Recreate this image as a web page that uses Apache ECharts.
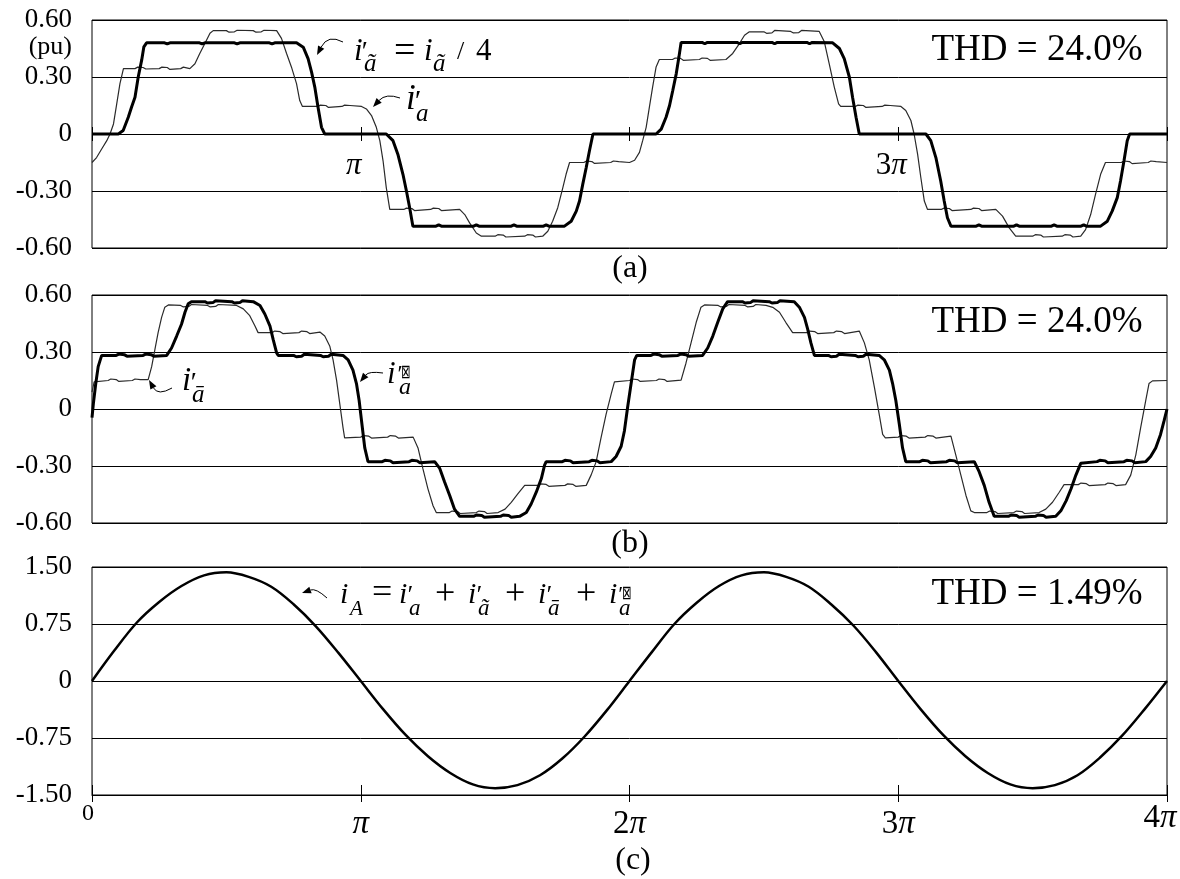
<!DOCTYPE html>
<html>
<head>
<meta charset="utf-8">
<script src="https://cdn.jsdelivr.net/npm/echarts@6/dist/echarts.min.js"></script>
<style>
  html, body { margin: 0; padding: 0; background: #fff; }
  #chart { width: 1180px; height: 879px; }
</style>
</head>
<body>
<div id="chart"></div>
<script>
// x is in units of pi (0 .. 4 pi), y in pu

// tick labels
var yLabelsAB = ['-0.60', '-0.30', '0', '0.30', '0.60'];
var yLabelsC = ['-1.50', '-0.75', '0', '0.75', '1.50'];
var xLabelsA = ['', 'π', '', '3π', ''];
var xLabelsC = ['0', 'π', '2π', '3π', '4π'];
var thdLabels = ['THD = 24.0%', 'THD = 24.0%', 'THD = 1.49%'];
var panelNames = ['(a)', '(b)', '(c)'];

// panel (a), thick: i'_ã = i_ã / 4
var iaTildeA = [
  [0,0],[0.098,0],[0.116,0.018],[0.135,0.088],[0.147,0.141],[0.16,0.194],[0.172,0.3],[0.185,0.39],[0.193,0.459],[0.203,0.48],
  [0.27,0.48],[0.28,0.474],[0.29,0.48],[0.4,0.48],[0.41,0.474],[0.42,0.48],[0.53,0.48],[0.54,0.474],[0.55,0.48],[0.66,0.48],[0.67,0.474],[0.68,0.48],
  [0.761,0.48],[0.786,0.457],[0.804,0.397],[0.817,0.326],[0.829,0.247],[0.841,0.141],[0.854,0.035],[0.866,0],
  [1.095,0],[1.12,-0.035],[1.138,-0.106],[1.157,-0.212],[1.17,-0.3],[1.182,-0.388],[1.194,-0.485],
  [1.28,-0.485],[1.29,-0.478],[1.3,-0.485],[1.42,-0.485],[1.43,-0.478],[1.44,-0.485],[1.56,-0.485],[1.57,-0.478],[1.58,-0.485],[1.68,-0.485],[1.69,-0.478],[1.7,-0.485],
  [1.758,-0.485],[1.783,-0.459],[1.802,-0.406],[1.814,-0.353],[1.826,-0.265],[1.839,-0.176],[1.851,-0.088],[1.864,0],
  [2.099,0],[2.118,0.026],[2.136,0.088],[2.149,0.15],[2.161,0.229],[2.174,0.318],[2.184,0.406],[2.192,0.482],
  [2.27,0.482],[2.28,0.475],[2.29,0.482],[2.4,0.482],[2.41,0.475],[2.42,0.482],[2.53,0.482],[2.54,0.475],[2.55,0.482],[2.66,0.482],[2.67,0.475],[2.68,0.482],
  [2.756,0.48],[2.781,0.45],[2.799,0.397],[2.818,0.3],[2.83,0.194],[2.843,0.088],[2.855,0],
  [3.103,0],[3.121,-0.035],[3.14,-0.124],[3.158,-0.247],[3.171,-0.353],[3.183,-0.441],[3.196,-0.485],
  [3.29,-0.485],[3.3,-0.478],[3.31,-0.485],[3.43,-0.485],[3.44,-0.478],[3.45,-0.485],[3.57,-0.485],[3.58,-0.478],[3.59,-0.485],[3.68,-0.485],[3.69,-0.478],[3.7,-0.485],
  [3.753,-0.485],[3.778,-0.459],[3.796,-0.406],[3.815,-0.335],[3.827,-0.247],[3.84,-0.141],[3.852,-0.035],[3.861,0],
  [4,0]
];

// panel (a), thin: i'_a
var iaPrimeA = [
  [0,-0.15],[0.017,-0.124],[0.036,-0.079],[0.055,-0.035],[0.067,0],[0.08,0.053],[0.092,0.159],[0.104,0.265],[0.117,0.344],
  [0.16,0.344],[0.17,0.352],[0.19,0.35],[0.2,0.342],[0.25,0.344],[0.26,0.352],[0.28,0.35],[0.29,0.34],[0.33,0.344],[0.34,0.352],
  [0.364,0.344],[0.383,0.37],[0.401,0.424],[0.42,0.476],[0.439,0.53],[0.451,0.544],
  [0.5,0.544],[0.51,0.536],[0.53,0.538],[0.54,0.546],[0.6,0.544],[0.61,0.536],[0.63,0.538],[0.64,0.546],
  [0.687,0.544],[0.705,0.503],[0.724,0.424],[0.742,0.353],[0.761,0.265],[0.773,0.176],[0.783,0.145],
  [0.84,0.145],[0.85,0.152],[0.87,0.15],[0.88,0.14],[0.93,0.145],[0.94,0.152],[0.96,0.15],
  [1.003,0.145],[1.021,0.132],[1.04,0.097],[1.058,0.035],[1.071,-0.035],[1.083,-0.141],[1.095,-0.282],[1.108,-0.397],
  [1.16,-0.397],[1.17,-0.39],[1.19,-0.392],[1.2,-0.403],[1.26,-0.397],[1.27,-0.39],[1.29,-0.392],[1.3,-0.403],
  [1.368,-0.397],[1.387,-0.424],[1.405,-0.468],[1.43,-0.521],[1.449,-0.538],
  [1.5,-0.538],[1.51,-0.53],[1.53,-0.532],[1.54,-0.542],[1.61,-0.538],[1.62,-0.53],[1.64,-0.532],[1.65,-0.542],
  [1.677,-0.538],[1.696,-0.512],[1.714,-0.459],[1.733,-0.388],[1.752,-0.282],[1.764,-0.212],[1.777,-0.15],
  [1.83,-0.15],[1.84,-0.142],[1.86,-0.145],[1.87,-0.155],[1.93,-0.15],[1.94,-0.142],[1.96,-0.145],
  [2.0,-0.15],[2.019,-0.138],[2.037,-0.097],[2.049,-0.035],[2.062,0.035],[2.074,0.141],[2.086,0.247],[2.099,0.353],[2.111,0.392],
  [2.16,0.392],[2.17,0.4],[2.19,0.398],[2.2,0.388],[2.26,0.392],[2.27,0.4],[2.29,0.398],[2.3,0.388],
  [2.359,0.392],[2.384,0.424],[2.409,0.476],[2.428,0.52],[2.446,0.538],
  [2.5,0.538],[2.51,0.53],[2.53,0.532],[2.54,0.545],[2.6,0.54],[2.61,0.532],[2.63,0.534],[2.64,0.545],
  [2.706,0.54],[2.725,0.485],[2.743,0.37],[2.762,0.247],[2.778,0.159],[2.786,0.145],
  [2.84,0.145],[2.85,0.152],[2.87,0.15],[2.88,0.14],[2.94,0.145],[2.95,0.152],[2.97,0.15],
  [3.01,0.145],[3.028,0.124],[3.047,0.071],[3.059,0],[3.072,-0.106],[3.084,-0.229],[3.097,-0.353],[3.109,-0.397],
  [3.16,-0.397],[3.17,-0.39],[3.19,-0.392],[3.2,-0.403],[3.27,-0.397],[3.28,-0.39],[3.3,-0.392],[3.31,-0.403],
  [3.363,-0.397],[3.388,-0.432],[3.413,-0.494],[3.437,-0.538],
  [3.5,-0.538],[3.51,-0.53],[3.53,-0.532],[3.54,-0.542],[3.61,-0.538],[3.62,-0.53],[3.64,-0.532],[3.65,-0.542],
  [3.679,-0.538],[3.697,-0.503],[3.716,-0.424],[3.734,-0.318],[3.753,-0.212],[3.771,-0.15],
  [3.83,-0.15],[3.84,-0.142],[3.86,-0.145],[3.87,-0.156],[3.93,-0.15],[3.94,-0.142],[3.96,-0.145],[4,-0.15]
];

// panel (b), thick: the fourth bridge current
var iaFourB = [
  [0,-0.045],[0.005,0.027],[0.014,0.134],[0.023,0.223],[0.036,0.282],
  [0.09,0.282],[0.1,0.289],[0.12,0.286],[0.13,0.278],[0.19,0.282],[0.2,0.289],[0.22,0.286],[0.23,0.278],
  [0.278,0.282],[0.296,0.321],[0.315,0.384],[0.333,0.446],[0.346,0.509],[0.358,0.554],[0.37,0.565],
  [0.42,0.565],[0.43,0.558],[0.45,0.56],[0.46,0.57],[0.52,0.565],[0.53,0.558],[0.55,0.56],[0.56,0.57],
  [0.6,0.565],[0.625,0.545],[0.643,0.5],[0.662,0.438],[0.674,0.366],[0.687,0.295],[0.693,0.282],
  [0.75,0.282],[0.76,0.275],[0.78,0.278],[0.79,0.288],[0.85,0.282],[0.86,0.275],[0.88,0.278],[0.89,0.288],
  [0.934,0.282],[0.953,0.259],[0.971,0.205],[0.984,0.134],[0.994,0.045],[1.003,-0.063],[1.015,-0.205],[1.027,-0.277],
  [1.08,-0.277],[1.09,-0.27],[1.11,-0.273],[1.12,-0.283],[1.18,-0.277],[1.19,-0.27],[1.21,-0.273],[1.22,-0.283],
  [1.275,-0.277],[1.294,-0.313],[1.312,-0.384],[1.331,-0.455],[1.349,-0.527],[1.368,-0.565],
  [1.42,-0.565],[1.43,-0.558],[1.45,-0.56],[1.46,-0.57],[1.52,-0.565],[1.53,-0.558],[1.55,-0.56],[1.56,-0.57],
  [1.591,-0.565],[1.616,-0.545],[1.634,-0.5],[1.653,-0.438],[1.672,-0.366],[1.684,-0.295],[1.69,-0.277],
  [1.75,-0.277],[1.76,-0.27],[1.78,-0.273],[1.79,-0.283],[1.85,-0.277],[1.86,-0.27],[1.88,-0.273],[1.89,-0.283],
  [1.932,-0.277],[1.95,-0.25],[1.969,-0.196],[1.981,-0.116],[1.993,0.009],[2.006,0.134],[2.019,0.259],[2.027,0.282],
  [2.08,0.282],[2.09,0.289],[2.11,0.286],[2.12,0.278],[2.18,0.282],[2.19,0.289],[2.21,0.286],[2.22,0.278],
  [2.272,0.282],[2.291,0.321],[2.31,0.384],[2.328,0.455],[2.347,0.527],[2.365,0.565],
  [2.42,0.565],[2.43,0.558],[2.45,0.56],[2.46,0.57],[2.52,0.565],[2.53,0.558],[2.55,0.56],[2.56,0.57],
  [2.613,0.565],[2.632,0.536],[2.651,0.482],[2.663,0.42],[2.675,0.348],[2.688,0.282],
  [2.74,0.282],[2.75,0.275],[2.77,0.278],[2.78,0.288],[2.84,0.282],[2.85,0.275],[2.87,0.278],[2.88,0.288],
  [2.929,0.282],[2.948,0.259],[2.967,0.205],[2.979,0.134],[2.991,0.045],[3.004,-0.08],[3.016,-0.205],[3.028,-0.277],
  [3.08,-0.277],[3.09,-0.27],[3.11,-0.273],[3.12,-0.283],[3.18,-0.277],[3.19,-0.27],[3.21,-0.273],[3.22,-0.283],
  [3.283,-0.277],[3.301,-0.33],[3.32,-0.402],[3.338,-0.491],[3.357,-0.565],
  [3.41,-0.565],[3.42,-0.558],[3.44,-0.56],[3.45,-0.57],[3.51,-0.565],[3.52,-0.558],[3.54,-0.56],[3.55,-0.57],
  [3.586,-0.565],[3.605,-0.536],[3.625,-0.482],[3.643,-0.42],[3.661,-0.348],[3.679,-0.286],[3.685,-0.277],
  [3.74,-0.277],[3.75,-0.27],[3.77,-0.273],[3.78,-0.283],[3.84,-0.277],[3.85,-0.27],[3.87,-0.273],[3.88,-0.283],
  [3.921,-0.277],[3.939,-0.25],[3.958,-0.205],[3.976,-0.134],[3.989,-0.063],[4,0]
];

// panel (b), thin: i'_ā
var iaBarB = [
  [0,0.089],[0.008,0.143],
  [0.06,0.15],[0.07,0.158],[0.09,0.155],[0.1,0.145],[0.15,0.15],[0.16,0.158],[0.18,0.155],
  [0.209,0.155],[0.222,0.223],[0.234,0.313],[0.246,0.402],[0.259,0.482],[0.271,0.536],[0.284,0.548],
  [0.33,0.545],[0.34,0.537],[0.36,0.54],[0.37,0.55],[0.43,0.545],[0.44,0.537],[0.46,0.54],[0.47,0.55],
  [0.538,0.545],[0.563,0.527],[0.587,0.491],[0.606,0.438],[0.618,0.402],
  [0.67,0.402],[0.68,0.41],[0.7,0.407],[0.71,0.397],[0.77,0.402],[0.78,0.41],[0.8,0.407],[0.81,0.397],
  [0.848,0.405],[0.866,0.384],[0.885,0.33],[0.897,0.259],[0.91,0.152],[0.922,0.027],[0.934,-0.098],[0.94,-0.152],
  [1.0,-0.148],[1.01,-0.14],[1.03,-0.143],[1.04,-0.153],[1.1,-0.148],[1.11,-0.14],[1.13,-0.143],[1.14,-0.153],
  [1.195,-0.148],[1.213,-0.205],[1.231,-0.313],[1.25,-0.42],[1.269,-0.509],[1.281,-0.545],
  [1.33,-0.545],[1.34,-0.537],[1.36,-0.54],[1.37,-0.55],[1.43,-0.545],[1.44,-0.537],[1.46,-0.54],[1.47,-0.55],
  [1.511,-0.545],[1.537,-0.527],[1.56,-0.491],[1.585,-0.446],[1.61,-0.402],
  [1.66,-0.402],[1.67,-0.394],[1.69,-0.397],[1.7,-0.407],[1.76,-0.402],[1.77,-0.394],[1.79,-0.397],[1.8,-0.407],
  [1.839,-0.402],[1.857,-0.348],[1.876,-0.277],[1.894,-0.152],[1.913,-0.027],[1.932,0.08],[1.944,0.143],
  [2.0,0.15],[2.01,0.158],[2.03,0.155],[2.04,0.145],[2.1,0.15],[2.11,0.158],[2.13,0.155],[2.14,0.145],
  [2.192,0.152],[2.21,0.241],[2.229,0.348],[2.248,0.455],[2.266,0.536],[2.279,0.548],
  [2.33,0.545],[2.34,0.537],[2.36,0.54],[2.37,0.55],[2.43,0.545],[2.44,0.537],[2.46,0.54],[2.47,0.55],
  [2.508,0.545],[2.533,0.535],[2.558,0.509],[2.582,0.455],[2.607,0.402],
  [2.66,0.402],[2.67,0.41],[2.69,0.407],[2.7,0.397],[2.76,0.402],[2.77,0.41],[2.79,0.407],[2.8,0.397],
  [2.855,0.41],[2.874,0.348],[2.892,0.259],[2.911,0.116],[2.929,-0.027],[2.942,-0.134],[2.952,-0.152],
  [3.0,-0.148],[3.01,-0.14],[3.03,-0.143],[3.04,-0.153],[3.1,-0.148],[3.11,-0.14],[3.13,-0.143],[3.14,-0.153],
  [3.196,-0.143],[3.214,-0.241],[3.233,-0.348],[3.252,-0.455],[3.27,-0.536],[3.283,-0.545],
  [3.33,-0.545],[3.34,-0.537],[3.36,-0.54],[3.37,-0.55],[3.43,-0.545],[3.44,-0.537],[3.46,-0.54],[3.47,-0.55],
  [3.524,-0.545],[3.549,-0.527],[3.574,-0.491],[3.599,-0.438],[3.617,-0.398],
  [3.67,-0.398],[3.68,-0.39],[3.7,-0.393],[3.71,-0.403],[3.77,-0.398],[3.78,-0.39],[3.8,-0.393],[3.81,-0.403],
  [3.846,-0.398],[3.865,-0.348],[3.884,-0.241],[3.902,-0.098],[3.921,0.045],[3.933,0.134],[3.946,0.148],[4,0.15]
];

// panel (c): i_A, sampled every pi/12
var iA = [
  [0,0],[0.083,0.40],[0.167,0.77],[0.25,1.04],[0.333,1.25],[0.417,1.39],[0.5,1.43],[0.583,1.37],[0.667,1.24],[0.75,1.01],[0.833,0.72],[0.917,0.37],
  [1.0,0],[1.083,-0.37],[1.167,-0.71],[1.25,-0.99],[1.333,-1.21],[1.417,-1.36],[1.5,-1.41],[1.583,-1.37],[1.667,-1.24],[1.75,-1.02],[1.833,-0.73],[1.917,-0.38],
  [2.0,0],[2.083,0.38],[2.167,0.75],[2.25,1.03],[2.333,1.25],[2.417,1.39],[2.5,1.43],[2.583,1.37],[2.667,1.24],[2.75,1.01],[2.833,0.73],[2.917,0.38],
  [3.0,0],[3.083,-0.37],[3.167,-0.71],[3.25,-0.99],[3.333,-1.21],[3.417,-1.36],[3.5,-1.41],[3.583,-1.37],[3.667,-1.24],[3.75,-1.01],[3.833,-0.72],[3.917,-0.37],
  [4.0,0]
];

var serif = "'Liberation Serif', 'Times New Roman', serif";

function piLabel(s) {
  if (!s) return '';
  if (s === '0') return '{z|0}';
  if (s === 'π') return '{p|π}';
  if (s === '4π') return '{n4|4}{p4|π}';
  return '{n|' + s.charAt(0) + '}{p|π}';
}

// text piece placed by its baseline
function tx(x, base, s, size, italic, align, sx) {
  var el = {
    type: 'text', x: x, y: base - 0.34 * size, silent: true,
    style: {
      text: s, fontFamily: serif, fontSize: size, fontStyle: italic ? 'italic' : 'normal',
      fill: '#000', align: align || 'left', verticalAlign: 'middle',
      textAlign: align || 'left', textVerticalAlign: 'middle'
    }
  };
  if (sx) el.scaleX = sx;
  return el;
}

// curved pointer with a filled head at (x2, y2)
function arrow(x1, y1, cx, cy, x2, y2) {
  var dx = x2 - cx, dy = y2 - cy, L = Math.sqrt(dx * dx + dy * dy);
  var ux = dx / L, uy = dy / L;
  var bx = x2 - 9 * ux, by = y2 - 9 * uy;
  var px = -uy * 3.5, py = ux * 3.5;
  return [
    { type: 'bezierCurve', silent: true, shape: { x1: x1, y1: y1, x2: bx, y2: by, cpx1: cx, cpy1: cy },
      style: { stroke: '#000', lineWidth: 1, fill: 'none' } },
    { type: 'polygon', silent: true, shape: { points: [[x2, y2], [bx + px, by + py], [bx - px, by - py]] },
      style: { fill: '#000' } }
  ];
}

var plotH = 228;
var grids = [
  { left: 92, top: 20, width: 1075, height: plotH },
  { left: 92, top: 295, width: 1075, height: plotH },
  { left: 92, top: 567, width: 1075, height: plotH }
];

var yLabelStyle = { color: '#000', fontFamily: serif, fontSize: 27, margin: 20 };

function yAx(gi, lim, step, labels) {
  return {
    type: 'value', gridIndex: gi, min: -lim, max: lim, interval: step,
    axisLine: { show: false }, axisTick: { show: false },
    splitLine: { show: true, lineStyle: { color: '#000', width: 1 } },
    axisLabel: Object.assign({
      formatter: function (v) { return labels[Math.round((v + lim) / step)]; }
    }, yLabelStyle)
  };
}

var piRich = {
  p: { fontFamily: serif, fontStyle: 'italic', fontSize: 33, lineHeight: 44, color: '#000' },
  n: { fontFamily: serif, fontSize: 33, lineHeight: 44, color: '#000' },
  p4: { fontFamily: serif, fontStyle: 'italic', fontSize: 33, lineHeight: 32, color: '#000', padding: [0, 14, 0, 0] },
  n4: { fontFamily: serif, fontSize: 33, lineHeight: 32, color: '#000' },
  z: { fontFamily: serif, fontSize: 24, lineHeight: 24, color: '#000', padding: [0, 8, 0, 0] }
};

var piRichA = {
  p: { fontFamily: serif, fontStyle: 'italic', fontSize: 31, lineHeight: 30, color: '#000' },
  n: { fontFamily: serif, fontSize: 31, lineHeight: 30, color: '#000' }
};

var xBase = { type: 'value', min: 0, max: 4, interval: 1, splitLine: { show: false } };
// the (a) tick axis sits on the zero line, half the plot height above the bottom
var midOffset = -plotH / 2;

var option = {
  animation: false,
  backgroundColor: '#fff',
  grid: grids.map(function (g) {
    return Object.assign({ show: true, borderColor: '#000', borderWidth: 1, containLabel: false, outerBoundsMode: 'none' }, g);
  }),
  xAxis: [
    // (a) ticks down from the zero line + labels
    Object.assign({}, xBase, {
      gridIndex: 0, position: 'bottom', offset: midOffset,
      axisLine: { show: false, onZero: false },
      axisTick: { show: true, inside: false, length: 7, lineStyle: { color: '#000' } },
      axisLabel: { formatter: function (v) { return piLabel(xLabelsA[Math.round(v)]); },
        rich: piRichA, margin: 17, padding: [0, 14, 0, 0], showMinLabel: true, showMaxLabel: true }
    }),
    // (a) ticks up from the zero line
    Object.assign({}, xBase, {
      gridIndex: 0, position: 'bottom', offset: midOffset,
      axisLine: { show: false, onZero: false },
      axisTick: { show: true, inside: true, length: 7, lineStyle: { color: '#000' } },
      axisLabel: { show: false }
    }),
    // (b) no ticks
    Object.assign({}, xBase, { gridIndex: 1, show: false }),
    // (c) bottom axis, labels + ticks out
    Object.assign({}, xBase, {
      gridIndex: 2, position: 'bottom',
      axisLine: { onZero: false, lineStyle: { color: '#000', width: 1 } },
      axisTick: { show: true, inside: false, length: 7, lineStyle: { color: '#000' } },
      axisLabel: { formatter: function (v) { return piLabel(xLabelsC[Math.round(v)]); },
        rich: piRich, margin: 7, showMinLabel: true, showMaxLabel: true }
    }),
    // (c) ticks in
    Object.assign({}, xBase, {
      gridIndex: 2, position: 'bottom',
      axisLine: { onZero: false, show: false },
      axisTick: { show: true, inside: true, length: 10, lineStyle: { color: '#000' } },
      axisLabel: { show: false }
    })
  ],
  yAxis: [
    yAx(0, 0.6, 0.3, yLabelsAB),
    yAx(1, 0.6, 0.3, yLabelsAB),
    yAx(2, 1.5, 0.75, yLabelsC)
  ],
  series: [
    { name: "i'a", type: 'line', xAxisIndex: 0, yAxisIndex: 0, data: iaPrimeA, showSymbol: false,
      lineStyle: { color: '#2a2a2a', width: 1.2 }, z: 3 },
    { name: "i'ã", type: 'line', xAxisIndex: 0, yAxisIndex: 0, data: iaTildeA, showSymbol: false,
      lineStyle: { color: '#000', width: 3 }, z: 4 },
    { name: "i'ā", type: 'line', xAxisIndex: 2, yAxisIndex: 1, data: iaBarB, showSymbol: false,
      lineStyle: { color: '#2a2a2a', width: 1.2 }, z: 3 },
    { name: 'i4', type: 'line', xAxisIndex: 2, yAxisIndex: 1, data: iaFourB, showSymbol: false,
      lineStyle: { color: '#000', width: 3 }, z: 4 },
    { name: 'iA', type: 'line', xAxisIndex: 3, yAxisIndex: 2, data: iA, showSymbol: false, smooth: 0.35,
      lineStyle: { color: '#000', width: 2.5 }, z: 4 }
  ],
  graphic: { elements: [] }
};

var g = option.graphic.elements;

// (pu) under the top tick
g.push(tx(72, 56, '(pu)', 26, false, 'right'));

// THD notes and panel names
g.push(tx(1037, 63, thdLabels[0], 37, false, 'center'));
g.push(tx(1037, 335, thdLabels[1], 37, false, 'center'));
g.push(tx(1037, 607, thdLabels[2], 37, false, 'center'));
g.push(tx(630, 279, panelNames[0], 32, false, 'center'));
g.push(tx(630, 554, panelNames[1], 32, false, 'center'));
g.push(tx(633, 871, panelNames[2], 32, false, 'center'));

// (a): i'_ã = i_ã / 4
g.push(tx(354, 62, 'i', 31, true), tx(360, 62, '′', 28, true), tx(364, 73, 'ã', 25, true));
g.push(tx(394, 65, '=', 38, false));
g.push(tx(424, 62, 'i', 31, true), tx(433, 73, 'ã', 25, true));
g.push(tx(457, 61, '/', 26, false), tx(476, 62, '4', 31, false));
g.push.apply(g, arrow(343, 42, 328, 34, 317, 55));

// (a): i'_a
g.push(tx(406, 112, 'i', 35, true), tx(413, 112, '′', 30, true), tx(416, 123, 'a', 25, true));
g.push.apply(g, arrow(400, 98, 386, 93, 373, 107));

// (b): i'_ā
g.push(tx(182, 393, 'i', 33, true), tx(189, 393, '′', 28, true), tx(192, 404, 'ā', 25, true));
g.push.apply(g, arrow(172, 388, 158, 396, 149, 380));

// (b): fourth current, its label glyph is missing in the source
g.push(tx(387, 385, 'i', 31, true), tx(396, 383, '′', 24, true), tx(401, 379, '⊠', 19, false, 'left', 0.6),
  tx(399, 396, 'a', 24, true));
g.push.apply(g, arrow(383, 373, 369, 371, 360, 382));

// (c): i_A = i'_a + i'_ã + i'_ā + i_a
g.push(tx(340, 605, 'i', 30, true), tx(350, 617, 'A', 21, true));
g.push(tx(372, 606, '=', 36, false));
var termX = [399, 468, 538, 609];
var subs = ['a', 'ã', 'ā'];
termX.forEach(function (x0, k) {
  g.push(tx(x0, 605, 'i', 30, true));
  if (k < 3) {
    g.push(tx(x0 + 7, 605, '′', 26, true), tx(x0 + 10, 617, subs[k], 23, true));
  } else {
    g.push(tx(x0 + 8, 603, '′', 22, true), tx(x0 + 13, 600, '⊠', 19, false, 'left', 0.6), tx(x0 + 10, 617, 'a', 23, true));
  }
  if (k > 0) g.push(tx(x0 - 33, 607, '+', 36, false));
});
g.push.apply(g, arrow(327, 598, 316, 588, 302, 593));

var chart = echarts.init(document.getElementById('chart'), null, { renderer: 'canvas' });
chart.setOption(option);
</script>
</body>
</html>
